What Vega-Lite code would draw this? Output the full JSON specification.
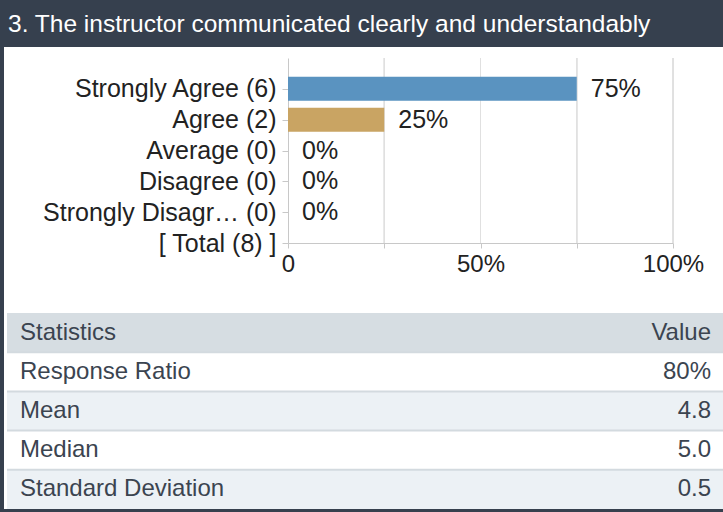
{
  "$schema": "https://vega.github.io/schema/vega-lite/v6.json",
  "background": "#36404e",
  "padding": {"left": 4, "top": 0, "right": 0, "bottom": 3},
  "spacing": 0,
  "resolve": {"scale": {"color": "independent"}},
  "config": {"font": "Liberation Sans", "view": {"stroke": null}, "concat": {"spacing": 0}},
  "vconcat": [
    {
      "width": 719,
      "height": 47,
      "view": {"fill": "#36404e", "stroke": null},
      "data": {"values": [{"title": "3. The instructor communicated clearly and understandably"}]},
      "mark": {"type": "text", "align": "left", "baseline": "middle", "color": "#ffffff", "fontSize": 24.5, "dx": 4, "dy": 1},
      "encoding": {
        "x": {"datum": 0, "type": "quantitative", "scale": {"domain": [0, 1], "range": [0, 719]}, "axis": null},
        "text": {"field": "title"}
      }
    },
    {
      "width": 719,
      "height": 266,
      "view": {"fill": "#ffffff", "stroke": null},
      "data": {"values": [
        {"answer": "Strongly Agree (6)", "pct": 0.75},
        {"answer": "Agree (2)", "pct": 0.25},
        {"answer": "Average (0)", "pct": 0},
        {"answer": "Disagree (0)", "pct": 0},
        {"answer": "Strongly Disagr\u2026 (0)", "pct": 0}
      ]},
      "encoding": {
        "y": {
          "field": "answer", "type": "nominal",
          "scale": {"type": "point", "padding": 0, "range": [11, 196],
            "domain": [" ", "Strongly Agree (6)", "Agree (2)", "Average (0)", "Disagree (0)", "Strongly Disagr\u2026 (0)", "[ Total (8) ]"]},
          "axis": {"title": null, "values": ["Strongly Agree (6)", "Agree (2)", "Average (0)", "Disagree (0)", "Strongly Disagr\u2026 (0)", "[ Total (8) ]"],
            "offset": -284, "grid": false, "domainColor": "#c8c8c8", "tickColor": "#c8c8c8", "tickSize": 6, "labelPadding": 6,
            "labelFontSize": 25, "labelColor": "#222222", "labelLimit": 400}
        },
        "x": {
          "field": "pct", "type": "quantitative",
          "scale": {"domain": [0, 1], "range": [284, 669], "nice": false},
          "axis": {"title": null, "values": [0, 0.25, 0.5, 0.75, 1],
            "labelExpr": "datum.value == 0 ? '0' : ((datum.value == 0.5 || datum.value == 1) ? format(datum.value, '.0%') : '')",
            "offset": -70, "grid": false, "domainColor": "#c8c8c8", "tickColor": "#c8c8c8", "tickSize": 5,
            "labelPadding": 4, "labelFontSize": 24, "labelColor": "#222222", "labelFlush": false, "labelOverlap": false}
        }
      },
      "layer": [
        {
          "mark": {"type": "rule", "color": "#e0e0e0"},
          "encoding": {"x": {"datum": 0.25, "type": "quantitative"}, "y": {"datum": " ", "type": "nominal"}, "y2": {"datum": "[ Total (8) ]"}}
        },
        {
          "mark": {"type": "rule", "color": "#e0e0e0"},
          "encoding": {"x": {"datum": 0.5, "type": "quantitative"}, "y": {"datum": " ", "type": "nominal"}, "y2": {"datum": "[ Total (8) ]"}}
        },
        {
          "mark": {"type": "rule", "color": "#e0e0e0"},
          "encoding": {"x": {"datum": 0.75, "type": "quantitative"}, "y": {"datum": " ", "type": "nominal"}, "y2": {"datum": "[ Total (8) ]"}}
        },
        {
          "mark": {"type": "rule", "color": "#e0e0e0"},
          "encoding": {"x": {"datum": 1, "type": "quantitative"}, "y": {"datum": " ", "type": "nominal"}, "y2": {"datum": "[ Total (8) ]"}}
        },
        {
          "mark": {"type": "bar", "height": 24},
          "encoding": {
            "color": {"field": "answer", "type": "nominal",
              "scale": {"domain": ["Strongly Agree (6)", "Agree (2)", "Average (0)", "Disagree (0)", "Strongly Disagr\u2026 (0)"],
                "range": ["#5a93c0", "#c9a463", "#8c8c8c", "#8c8c8c", "#8c8c8c"]},
              "legend": null}
          }
        },
        {
          "mark": {"type": "text", "align": "left", "baseline": "middle", "dx": 14, "fontSize": 25, "color": "#222222"},
          "encoding": {"text": {"field": "pct", "type": "quantitative", "format": ".0%"}}
        }
      ]
    },
    {
      "width": 719,
      "height": 196,
      "view": {"fill": "#ffffff", "stroke": null},
      "data": {"values": [
        {"stat": "Statistics", "value": "Value"},
        {"stat": "Response Ratio", "value": "80%"},
        {"stat": "Mean", "value": "4.8"},
        {"stat": "Median", "value": "5.0"},
        {"stat": "Standard Deviation", "value": "0.5"}
      ]},
      "encoding": {
        "y": {"field": "stat", "type": "nominal",
          "scale": {"domain": ["Statistics", "Response Ratio", "Mean", "Median", "Standard Deviation"], "paddingInner": 0, "paddingOuter": 0},
          "axis": null}
      },
      "layer": [
        {
          "mark": {"type": "rect"},
          "encoding": {
            "x": {"datum": 0, "type": "quantitative", "scale": {"domain": [0, 1], "range": [3, 719]}, "axis": null},
            "x2": {"datum": 1},
            "color": {"field": "stat", "type": "nominal",
              "scale": {"domain": ["Statistics", "Response Ratio", "Mean", "Median", "Standard Deviation"],
                "range": ["#d6dde2", "#ffffff", "#ecf1f5", "#ffffff", "#ecf1f5"]},
              "legend": null}
          }
        },
        {
          "transform": [{"filter": "datum.stat != 'Standard Deviation'"}],
          "mark": {"type": "rule", "color": "#d3dadf", "strokeWidth": 2},
          "encoding": {
            "y": {"field": "stat", "type": "nominal", "bandPosition": 1},
            "x": {"datum": 0, "type": "quantitative"},
            "x2": {"datum": 1}
          }
        },
        {
          "mark": {"type": "text", "align": "left", "baseline": "middle", "dx": 13, "fontSize": 24, "color": "#3b4450"},
          "encoding": {"x": {"datum": 0, "type": "quantitative"}, "text": {"field": "stat"}}
        },
        {
          "mark": {"type": "text", "align": "right", "baseline": "middle", "dx": -12, "fontSize": 24, "color": "#3b4450"},
          "encoding": {"x": {"datum": 1, "type": "quantitative"}, "text": {"field": "value"}}
        }
      ]
    }
  ]
}
